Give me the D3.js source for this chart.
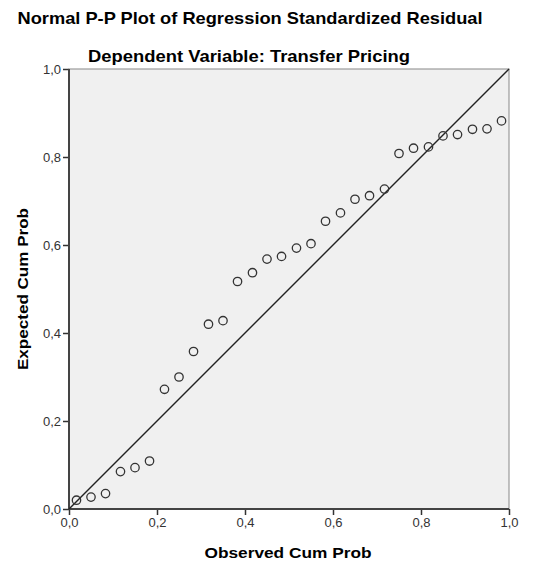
<!DOCTYPE html>
<html lang="en">
<head>
    <meta charset="utf-8">
    <style type="text/css">
        body { margin: 0; background: #fff; }
        text { font-family: "Liberation Sans", Arial, sans-serif; }
        .title { font-size: 17px; font-weight: bold; fill: #000; }
        .axis-label { font-size: 15px; font-weight: bold; fill: #000; }
        .tick text { font-size: 13px; fill: #333; }
    </style>
</head>
<body>
<svg width="537" height="567"></svg>

<script src="https://d3js.org/d3.v7.min.js" type="text/javascript"></script>

<script type="text/javascript">
    // observed vs expected cumulative probability
    var observed = [0.017, 0.050, 0.083, 0.117, 0.150, 0.183, 0.217, 0.250, 0.283, 0.317,
                    0.350, 0.383, 0.417, 0.450, 0.483, 0.517, 0.550, 0.583, 0.617, 0.650,
                    0.683, 0.717, 0.750, 0.783, 0.817, 0.850, 0.883, 0.917, 0.950, 0.983];
    var expected = [0.020, 0.027, 0.035, 0.085, 0.094, 0.109, 0.272, 0.300, 0.358, 0.420,
                    0.428, 0.517, 0.537, 0.568, 0.574, 0.593, 0.603, 0.654, 0.673, 0.704,
                    0.712, 0.727, 0.808, 0.820, 0.823, 0.848, 0.851, 0.863, 0.864, 0.882];
    var ticks = [0, 0.2, 0.4, 0.6, 0.8, 1.0];

    var svg = d3.select("svg"),
        plotLeft = 69, plotTop = 69, size = 440;

    var x = d3.scaleLinear().domain([0, 1]).range([plotLeft, plotLeft + size]);
    var y = d3.scaleLinear().domain([0, 1]).range([plotTop + size, plotTop]);
    var fmt = function (d) { return d3.format(".1f")(d).replace(".", ","); };

    svg.append("text").attr("class", "title")
        .attr("x", 250).attr("y", 24).attr("text-anchor", "middle")
        .attr("textLength", 465).attr("lengthAdjust", "spacingAndGlyphs")
        .text("Normal P-P Plot of Regression Standardized Residual");
    svg.append("text").attr("class", "title")
        .attr("x", 249).attr("y", 62).attr("text-anchor", "middle")
        .attr("textLength", 322).attr("lengthAdjust", "spacingAndGlyphs")
        .text("Dependent Variable: Transfer Pricing");

    // plot frame
    svg.append("rect")
        .attr("x", plotLeft).attr("y", plotTop).attr("width", size).attr("height", size)
        .attr("fill", "#f0f0f0").attr("stroke", "#888").attr("stroke-width", 1);

    var xAxis = svg.append("g")
        .attr("transform", "translate(0," + (plotTop + size) + ")")
        .call(d3.axisBottom(x).tickValues(ticks).tickFormat(fmt).tickSize(6).tickPadding(3));
    var yAxis = svg.append("g")
        .attr("transform", "translate(" + plotLeft + ",0)")
        .call(d3.axisLeft(y).tickValues(ticks).tickFormat(fmt).tickSize(6).tickPadding(2));

    [xAxis, yAxis].forEach(function (g) {
        g.select(".domain").remove();
        g.selectAll(".tick line").attr("stroke", "#333").attr("stroke-width", 1.5);
        g.selectAll(".tick text").attr("font-family", null).attr("font-size", null);
    });
    xAxis.append("line").attr("x1", plotLeft).attr("x2", plotLeft + size)
        .attr("stroke", "#444").attr("stroke-width", 2);
    yAxis.append("line").attr("y1", plotTop).attr("y2", plotTop + size)
        .attr("stroke", "#444").attr("stroke-width", 2);

    // reference diagonal
    svg.append("line")
        .attr("x1", x(0)).attr("y1", y(0)).attr("x2", x(1)).attr("y2", y(1))
        .attr("stroke", "#222").attr("stroke-width", 1.4);

    svg.selectAll(".pt")
        .data(observed)
        .enter()
        .append("circle")
        .attr("class", "pt")
        .attr("cx", function (d) { return x(d); })
        .attr("cy", function (d, i) { return y(expected[i]); })
        .attr("r", 4.2)
        .attr("fill", "none")
        .attr("stroke", "#333")
        .attr("stroke-width", 1.3);

    svg.append("text").attr("class", "axis-label")
        .attr("x", 288).attr("y", 558).attr("text-anchor", "middle")
        .attr("textLength", 167).attr("lengthAdjust", "spacingAndGlyphs")
        .text("Observed Cum Prob");
    svg.append("text").attr("class", "axis-label")
        .attr("transform", "translate(28," + 289 + ") rotate(-90)")
        .attr("text-anchor", "middle")
        .attr("textLength", 162).attr("lengthAdjust", "spacingAndGlyphs")
        .text("Expected Cum Prob");
</script>

</body>
</html>
